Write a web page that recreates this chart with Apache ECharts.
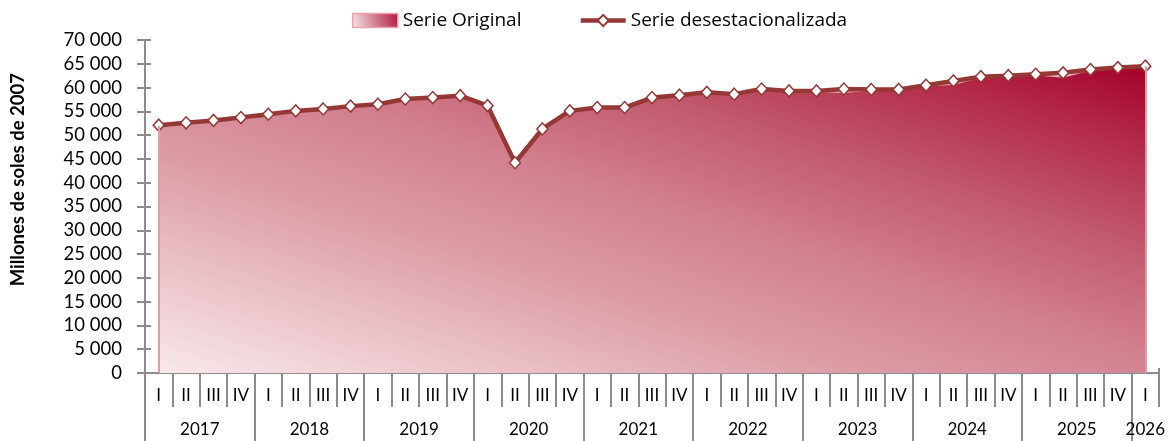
<!DOCTYPE html>
<html>
<head>
<meta charset="utf-8">
<script src="https://cdn.jsdelivr.net/npm/echarts@6/dist/echarts.min.js"></script>
<style>
  html, body { margin: 0; padding: 0; background: #fff; }
  #chart { width: 1169px; height: 441px; }
</style>
</head>
<body>
<div id="chart"></div>
<script>
// Quarterly series, millions of 2007 soles
const years = ['2017', '2018', '2019', '2020', '2021', '2022', '2023', '2024', '2025', '2026'];
const quartersPerYear = [4, 4, 4, 4, 4, 4, 4, 4, 4, 1];
const quarterNames = ['I', 'II', 'III', 'IV'];

const serieOriginal = [
  52000, 52500, 53000, 53600, 54300, 55000, 55400, 56000,
  56400, 57500, 57800, 58200, 56100, 44100, 51200, 55000,
  55700, 55700, 57800, 58300, 58900, 58200, 59600, 59200,
  59200, 59000, 59500, 59500, 60400, 60700, 62200, 62400,
  62700, 62200, 63700, 64100, 64500
];
const serieDesestacionalizada = [
  52100, 52600, 53100, 53700, 54400, 55100, 55500, 56100,
  56500, 57600, 57900, 58300, 56200, 44200, 51300, 55100,
  55800, 55800, 57900, 58400, 59000, 58600, 59700, 59300,
  59300, 59700, 59600, 59600, 60500, 61400, 62300, 62500,
  62800, 63100, 63800, 64200, 64500
];
const yTicks = { min: 0, max: 70000, interval: 5000 };

// Category list and year-row positions built from the year groups
const categories = [];
const yearStarts = [];
const yearCenters = [];
years.forEach((y, i) => {
  yearStarts.push(categories.length);
  yearCenters.push(categories.length + quartersPerYear[i] / 2);
  for (let q = 0; q < quartersPerYear[i]; q++) categories.push(y + ' ' + quarterNames[q]);
});
const nCat = categories.length;
const boundaries = Array.from({ length: nCat + 1 }, (_, i) => i);

const FONT = 'Lato, "Open Sans", sans-serif';
const LEGEND_FONT = '"Open Sans", Lato, sans-serif';
const AXIS_GRAY = '#8c8c8c';
const LINE_RED = '#953735';

const fmtThousands = v => String(v).replace(/\B(?=(\d{3})+(?!\d))/g, ' ');

// Diagonal fill: pale pink at the lower left, deep crimson at the upper right
const areaGradient = new echarts.graphic.LinearGradient(0, 1, 0.175, -0.82, [
  { offset: 0, color: '#f8e8ea' },
  { offset: 0.36, color: '#dc9ba5' },
  { offset: 0.53, color: '#d27f8e' },
  { offset: 0.7, color: '#c25a6e' },
  { offset: 0.87, color: '#b32a48' },
  { offset: 1, color: '#a3002a' }
]);
const legendGradient = new echarts.graphic.LinearGradient(0, 1, 1, 0, [
  { offset: 0, color: '#f8e9eb' },
  { offset: 1, color: '#b0123a' }
]);

const chart = echarts.init(document.getElementById('chart'), null, { renderer: 'canvas' });

chart.setOption({
  animation: false,
  textStyle: { fontFamily: FONT },
  grid: { left: 145, right: 10, top: 40, bottom: 68, containLabel: false },
  legend: {
    left: 352,
    top: 11,
    padding: 0,
    itemGap: 57,
    itemWidth: 45,
    itemHeight: 14,
    textStyle: { fontSize: 19, color: '#000', fontFamily: LEGEND_FONT },
    data: [
      { name: 'Serie Original', icon: 'rect',
        itemStyle: { color: legendGradient, borderColor: '#e7a3ab', borderWidth: 1.5 } },
      { name: 'Serie desestacionalizada',
        lineStyle: { color: LINE_RED, width: 4.5 } }
    ]
  },
  xAxis: [
    {
      // Quarter row
      type: 'category',
      data: categories,
      boundaryGap: true,
      position: 'bottom',
      axisLine: { show: true, lineStyle: { color: AXIS_GRAY, width: 2 } },
      axisTick: { show: true, inside: true, length: 5, interval: 0,
                  lineStyle: { color: AXIS_GRAY, width: 2 } },
      axisLabel: {
        interval: 0, margin: 14, fontSize: 17, color: '#000', fontFamily: FONT,
        formatter: v => v.split(' ')[1]
      },
      splitLine: { show: false }
    },
    {
      // Quarter separators below the axis
      type: 'value',
      min: 0, max: nCat,
      position: 'bottom',
      axisLine: { show: false },
      axisTick: { show: true, length: 34, customValues: boundaries,
                  lineStyle: { color: AXIS_GRAY, width: 2 } },
      axisLabel: { show: false },
      splitLine: { show: false }
    },
    {
      // Year row: long separators and centred year labels
      type: 'value',
      min: 0, max: nCat,
      position: 'bottom',
      axisLine: { show: false },
      axisTick: { show: true, length: 68, customValues: yearStarts,
                  lineStyle: { color: AXIS_GRAY, width: 2 } },
      axisLabel: {
        show: true, margin: 48, fontSize: 17, color: '#000', fontFamily: FONT,
        customValues: yearCenters,
        formatter: v => years[yearCenters.indexOf(v)] || ''
      },
      splitLine: { show: false }
    }
  ],
  yAxis: [
    {
      type: 'value',
      min: yTicks.min, max: yTicks.max, interval: yTicks.interval,
      axisLine: { show: true, lineStyle: { color: AXIS_GRAY, width: 2 } },
      axisTick: { show: true, length: 8, lineStyle: { color: AXIS_GRAY, width: 2 } },
      axisLabel: { margin: 23, fontSize: 18.5, color: '#000', fontFamily: FONT,
                   formatter: fmtThousands },
      splitLine: { show: false }
    },
    {
      // Inner half of the crossing ticks
      type: 'value',
      position: 'left',
      min: yTicks.min, max: yTicks.max, interval: yTicks.interval,
      axisLine: { show: false },
      axisTick: { show: true, inside: true, length: 6, lineStyle: { color: AXIS_GRAY, width: 2 } },
      axisLabel: { show: false },
      splitLine: { show: false }
    }
  ],
  graphic: [
    {
      type: 'text',
      left: 9,
      top: 73,
      rotation: Math.PI / 2,
      style: {
        text: 'Millones de soles de 2007',
        font: 'bold 18.5px ' + FONT,
        fill: '#000'
      }
    }
  ],
  series: [
    {
      name: 'Serie Original',
      type: 'line',
      xAxisIndex: 0,
      yAxisIndex: 0,
      data: serieOriginal,
      symbol: 'none',
      z: 1,
      lineStyle: { color: '#e7a3ab', width: 1.5 },
      itemStyle: { color: '#c8506a' },
      areaStyle: { color: areaGradient, opacity: 1 },
      markLine: {
        silent: true,
        symbol: 'none',
        label: { show: false },
        lineStyle: { color: '#e39aa2', width: 2, type: 'solid' },
        data: [
          [{ coord: [0, 0] }, { coord: [0, serieOriginal[0]] }],
          [{ coord: [nCat - 1, 0] }, { coord: [nCat - 1, serieOriginal[nCat - 1]] }]
        ]
      }
    },
    {
      name: 'Serie desestacionalizada',
      type: 'line',
      xAxisIndex: 0,
      yAxisIndex: 0,
      data: serieDesestacionalizada,
      z: 3,
      symbol: 'diamond',
      symbolSize: [11, 12],
      showAllSymbol: true,
      lineStyle: { color: LINE_RED, width: 4.5 },
      itemStyle: { color: '#ffffff', borderColor: LINE_RED, borderWidth: 1.5 }
    }
  ]
});
</script>
</body>
</html>
